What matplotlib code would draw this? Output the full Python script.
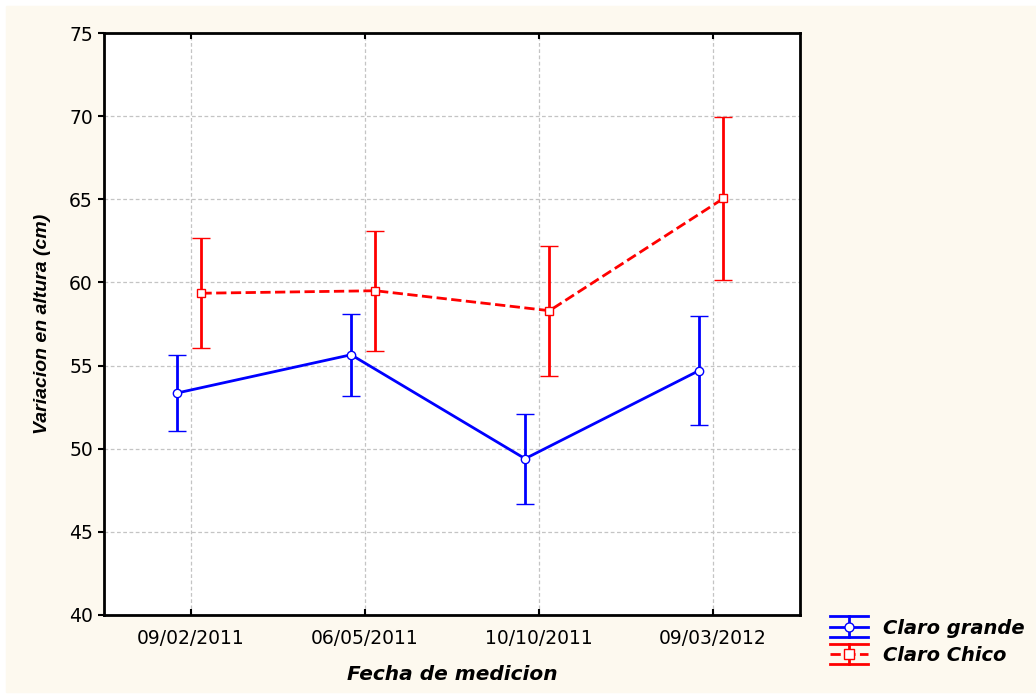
import matplotlib.pyplot as plt
from matplotlib.patches import Rectangle
from matplotlib.lines import Line2D
from matplotlib.legend_handler import HandlerBase
from matplotlib.container import ErrorbarContainer

fechas = ["09/02/2011", "06/05/2011", "10/10/2011", "09/03/2012"]
grande = [53.35, 55.65, 49.4, 54.7]
grande_err = [2.3, 2.45, 2.7, 3.3]
chico = [59.35, 59.5, 58.3, 65.05]
chico_err = [3.3, 3.6, 3.9, 4.9]

plt.rcParams['font.family'] = ['DejaVu Sans']


# legend symbol like the original: caps across the whole handle
class ErrHandler(HandlerBase):
    def create_artists(self, legend, orig_handle, xdescent, ydescent,
                       width, height, fontsize, trans):
        ln = orig_handle.lines[0]
        c = ln.get_color()
        x0, x1 = -xdescent, -xdescent + width
        yc = -ydescent + height / 2
        xm = (x0 + x1) / 2
        d = 7.4
        arts = [
            Line2D([x0, x1], [yc + d, yc + d], color=c, lw=2),
            Line2D([x0, x1], [yc - d, yc - d], color=c, lw=2),
            Line2D([xm, xm], [yc - d, yc + d], color=c, lw=2),
            Line2D([x0, x1], [yc, yc], color=c, lw=2, ls=ln.get_linestyle()),
            Line2D([xm], [yc], marker=ln.get_marker(), ms=6.5, mfc='white', mec=c, mew=1),
        ]
        for a in arts:
            a.set_transform(trans)
        return arts


fig = plt.figure(figsize=(10.36, 6.98), dpi=100, facecolor='white')
fig.patches.append(Rectangle((6 / 1036, 6 / 698), 1030 / 1036, 686 / 698,
                             transform=fig.transFigure, color='#fdf9ef', zorder=-10))
ax = fig.add_axes([104 / 1036, 1 - 615 / 698, 696 / 1036, 582 / 698])
ax.set_facecolor('white')

x = list(range(len(fechas)))
xg = [i - 0.08 for i in x]
xc = [i + 0.06 for i in x]

eg = ax.errorbar(xg, grande, yerr=grande_err, color='#0000ff', lw=2, elinewidth=2,
                 capsize=6.5, capthick=2, marker='o', ms=6, mfc='white', mec='#0000ff',
                 mew=1, label='Claro grande', zorder=3)
ec = ax.errorbar(xc, chico, yerr=chico_err, color='#ff0000', lw=2, ls='--', elinewidth=2,
                 capsize=6.5, capthick=2, marker='s', ms=6, mfc='white', mec='#ff0000',
                 mew=1, label='Claro Chico', zorder=3)

ax.set_xlim(-0.5, 3.5)
ax.set_ylim(40, 75)
ax.set_yticks(range(40, 76, 5))
ax.set_xticks(x)
ax.set_xticklabels(fechas)
ax.grid(True, color='#c4c4c4', ls=(0, (3, 2)), lw=0.9)
ax.set_axisbelow(True)
for s in ax.spines.values():
    s.set_linewidth(2)
ax.tick_params(axis='x', direction='in', top=True, length=4, width=1.5, labelsize=13.5, pad=10)
ax.tick_params(axis='y', direction='out', length=4, width=1.5, labelsize=13.5, pad=4)

ax.set_xlabel('Fecha de medicion', fontsize=14.5, fontweight='bold', style='italic', labelpad=12)
ax.set_ylabel('Variacion en altura (cm)', fontsize=14, fontweight='bold', style='italic',
              labelpad=13, family=['Liberation Sans'])

fig.legend(handles=[eg, ec], labels=['Claro grande', 'Claro Chico'],
           handler_map={ErrorbarContainer: ErrHandler()},
           loc='upper left', bbox_to_anchor=(812 / 1036, 1 - 601 / 698), frameon=False,
           prop={'size': 14, 'weight': 'bold', 'style': 'italic'}, handlelength=2.0,
           handletextpad=0.75, labelspacing=0.42)

fig.savefig('out.png', dpi=100, facecolor=fig.get_facecolor())
